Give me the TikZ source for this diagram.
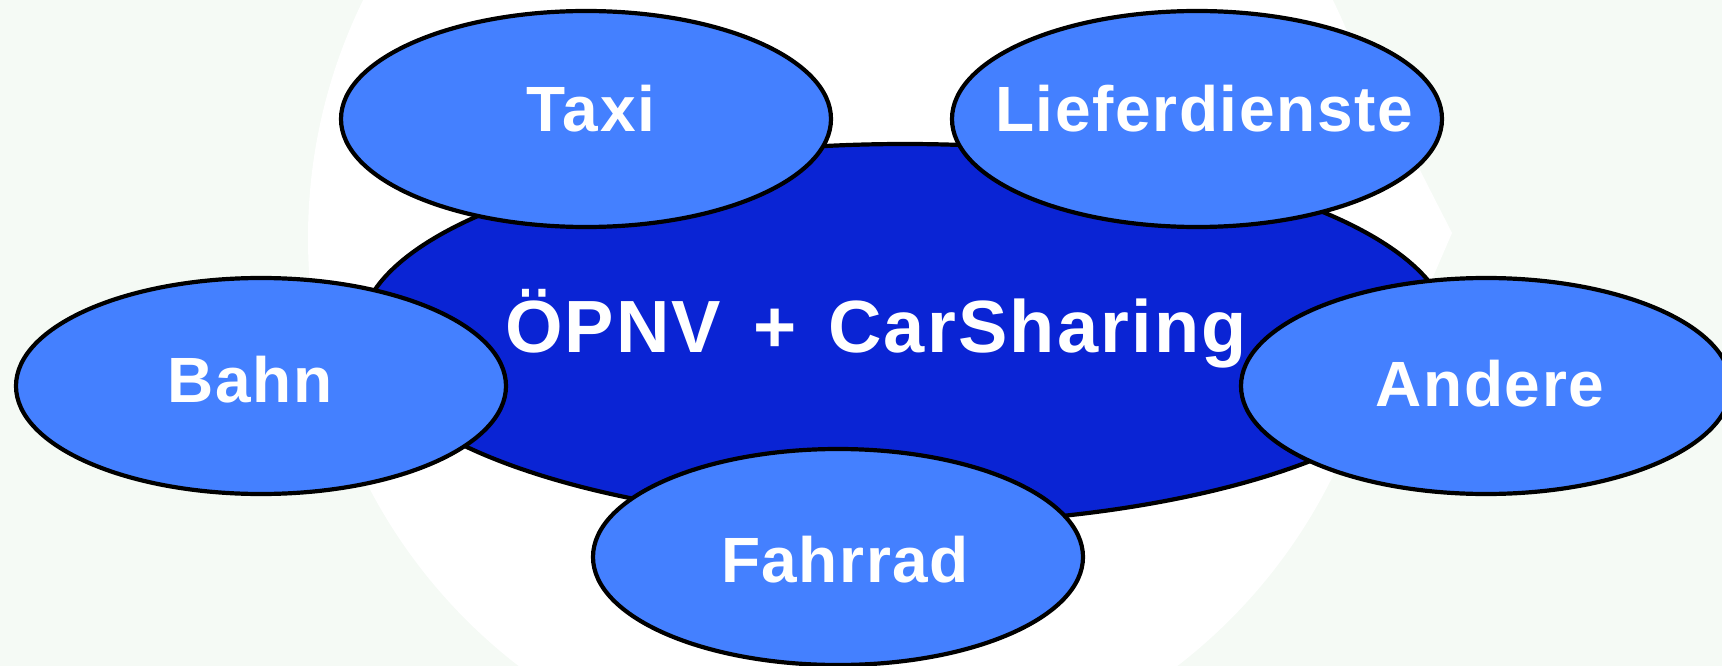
\documentclass[tikz,border=0pt]{standalone}
\usepackage{fontspec}
\setmainfont{Liberation Sans}
\usetikzlibrary{shapes.geometric}
\definecolor{bgcol}{RGB}{245,250,245}
\definecolor{satblue}{RGB}{68,128,255}
\definecolor{coreblue}{RGB}{10,36,212}
\tikzset{
  sat/.style={ellipse, draw=black, line width=4.2pt, fill=satblue, inner sep=0pt,
    minimum width=490pt, minimum height=216pt},
  core/.style={ellipse, draw=black, line width=4.2pt, fill=coreblue, inner sep=0pt,
    minimum width=1090pt, minimum height=380pt},
  lbl/.style={anchor=base, text=white, inner sep=0pt,
    font=\fontsize{64}{70}\selectfont\bfseries\addfontfeature{LetterSpace=2.5}},
  corelbl/.style={anchor=base, text=white, inner sep=0pt,
    font=\fontsize{74}{80}\selectfont\bfseries\addfontfeature{LetterSpace=3}}
}
\begin{document}
\begin{tikzpicture}[x=1pt,y=-1pt]
\useasboundingbox (0,0) rectangle (1722,666);
\fill[bgcol] (0,0) rectangle (1722,666);
% white background disc with arrow barb
\fill[white] (848,238) circle[radius=540];
\fill[white] (1452,233) -- (1398,127) -- (1300,250) -- (1414,321) -- cycle;
% central ellipse
\node[core] (core) at (905,334) {};
\node[corelbl] (coret) at (876,352) {ÖPNV\ \hspace{9pt}+\ \hspace{9pt}CarSharing};
% satellites
\node[sat] (taxi) at (586,119) {};
\node[lbl] (taxit) at (591,132) {Taxi};
\node[sat] (liefer) at (1197,119) {};
\node[lbl] (liefert) at (1204,132) {Lieferdienste};
\node[sat] (bahn) at (261,386) {};
\node[lbl] (bahnt) at (250,402) {Bahn};
\node[sat] (andere) at (1486,386) {};
\node[lbl] (anderet) at (1490,406) {Andere};
\node[sat] (fahrrad) at (838,557) {};
\node[lbl] (fahrradt) at (845,582) {Fahrrad};
\end{tikzpicture}
\end{document}
